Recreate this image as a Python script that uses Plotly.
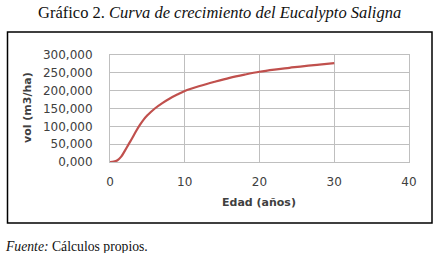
import plotly.graph_objects as go

# Data (edad en años, volumen m3/ha)
edad = [0, 0.5, 1, 1.5, 2, 2.5, 3, 3.5, 4, 4.5, 5, 5.5, 6, 7, 8, 9, 10, 12, 14, 16, 18, 20, 22, 24, 26, 28, 30]
vol = [0, 1, 5, 15, 32, 50, 68, 87, 104, 119, 131, 141, 150, 165, 178, 189, 199, 213, 225, 236, 245, 253, 259, 264, 269, 273, 277]

y_ticks = [0, 50, 100, 150, 200, 250, 300]
y_labels = ["0,000", "50,000", "100,000", "150,000", "200,000", "250,000", "300,000"]
x_ticks = [0, 10, 20, 30, 40]

W, H = 438, 253
L, R, T, B = 110, 409, 55, 162

def px(x):
    return (x - L) / (R - L)

def py(y):
    return (B - y) / (B - T)

fig = go.Figure()
fig.add_trace(go.Scatter(x=edad, y=vol, mode="lines",
                         line=dict(color="#C0504D", width=2.2, shape="spline"),
                         hoverinfo="skip", showlegend=False))

tick_font = dict(family="DejaVu Sans", size=12, color="#404040")
grid = "#BFBFBF"

fig.update_layout(
    width=W, height=H,
    margin=dict(l=L, r=W - R, t=T, b=H - B, pad=0),
    paper_bgcolor="white", plot_bgcolor="white",
    showlegend=False,
    xaxis=dict(range=[0, 40], tickvals=x_ticks, showgrid=True, gridcolor=grid, gridwidth=1,
               showline=True, linecolor=grid, mirror=True, zeroline=False,
               ticks="", tickfont=tick_font, ticklabelstandoff=9, fixedrange=True),
    yaxis=dict(range=[0, 300], tickvals=y_ticks, ticktext=y_labels, showgrid=True,
               gridcolor=grid, gridwidth=1, showline=True, linecolor=grid, mirror=True,
               zeroline=False, ticks="", tickfont=tick_font, ticklabelstandoff=14,
               fixedrange=True),
    shapes=[dict(type="rect", xref="paper", yref="paper",
                 x0=px(7.5), x1=px(432), y0=py(223), y1=py(32),
                 line=dict(color="black", width=1.5), fillcolor="rgba(0,0,0,0)")],
    annotations=[
        dict(text="Gráfico 2. <i>Curva de crecimiento del Eucalypto Saligna</i>",
             xref="paper", yref="paper", x=px(219), y=py(13), showarrow=False,
             xanchor="center", yanchor="middle",
             font=dict(family="Liberation Serif", size=16.5, color="#111111")),
        dict(text="<b>Edad (años)</b>", xref="paper", yref="paper", x=px(259), y=py(202),
             showarrow=False, xanchor="center", yanchor="middle",
             font=dict(family="DejaVu Sans", size=11, color="#404040")),
        dict(text="<b>vol (m3/ha)</b>", xref="paper", yref="paper", x=px(27), y=py(108),
             showarrow=False, xanchor="center", yanchor="middle", textangle=-90,
             font=dict(family="DejaVu Sans", size=11, color="#404040")),
        dict(text="<i>Fuente:</i> Cálculos propios.", xref="paper", yref="paper",
             x=px(3), y=py(246), showarrow=False, xanchor="left", yanchor="middle",
             font=dict(family="Liberation Serif", size=13.7, color="#111111")),
    ],
)

fig.write_html("out.html", config={"displayModeBar": False},
               post_script="document.body.style.margin='0';document.body.style.overflow='hidden';")
